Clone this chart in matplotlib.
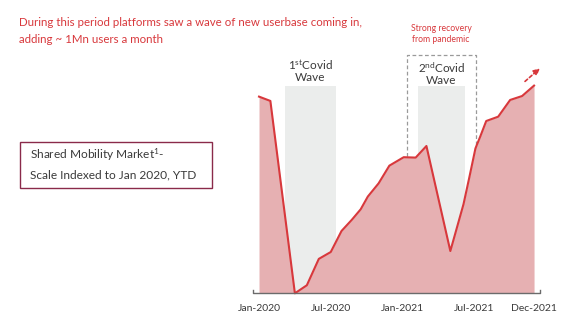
import matplotlib.pyplot as plt
from matplotlib.patches import Rectangle

# months since Jan-2020 and scale index (Jan 2020 = 100)
months = [0, 0.95, 3.0, 4.0, 5.0, 6.0, 6.9, 7.75, 8.5, 9.1, 10.0, 10.9,
          12.1, 13.1, 14.0, 16.0, 17.1, 17.6, 18.1, 18.5, 19.0, 20.0, 21.0, 22.0, 23.0]
index = [100, 97.8, 0, 4.1, 17.5, 21, 31.7, 37.3, 42.7, 49.2, 55.9, 64.9,
         69.2, 69, 74.9, 21.5, 45.3, 59.3, 73.7, 79.7, 87.6, 89.8, 98.3, 100.3, 105.6]

tick_pos = [0, 6, 12, 18, 23]
tick_labels = ['Jan-2020', 'Jul-2020', 'Jan-2021', 'Jul-2021', 'Dec-2021']

waves = [(2.17, 6.43, '1$^{st}$Covid\nWave'), (13.29, 17.22, '2$^{nd}$Covid\nWave')]
label_y = [107.0, 105.5]

RED = '#d8383c'
FILL = '#e6b0b2'
GREY = '#ebedec'
TEXT = '#3a3a3a'

plt.rcParams['font.family'] = ['Lato', 'DejaVu Sans']
plt.rcParams['mathtext.default'] = 'regular'

fig = plt.figure(figsize=(5.77, 3.25), dpi=100)
ax = fig.add_axes([240 / 577, 25 / 325, 320 / 577, 250 / 325])
ax.set_xlim(-1.59, 25.17)
ax.set_ylim(-3.4, 123.7)
ax.axis('off')

# covid wave shading
for (x0, x1, label), ly in zip(waves, label_y):
    ax.add_patch(Rectangle((x0, 0), x1 - x0, 105.6, color=GREY, zorder=1, lw=0))
    ax.text((x0 + x1) / 2, ly, label, ha='center', va='bottom', fontsize=8.5,
            color=TEXT, linespacing=1.0, zorder=5)

# dashed box around recovery
ax.plot([12.35, 12.35, 18.15, 18.15], [60, 121, 121, 60], ls='--', color='#9a9a9a',
        lw=0.9, dashes=(3, 2), zorder=2)

ax.fill_between(months, index, 0, color=FILL, lw=0, zorder=3)
ax.plot(months, index, color=RED, lw=1.5, zorder=4)

# trend arrow
ax.annotate('', xy=(23.66, 115.3), xytext=(22.07, 106.8),
            arrowprops=dict(arrowstyle='-|>', color=RED, lw=1.2, ls=(0, (2, 1.5)),
                            mutation_scale=9), zorder=5)

# baseline with end ticks
ax.plot([-0.53, -0.53, 23.46, 23.46], [1.6, 0, 0, 1.6], color='#6b6b6b', lw=1.0,
        zorder=5, clip_on=False)
for p, lab in zip(tick_pos, tick_labels):
    ax.text(p, -5.3, lab, ha='center', va='top', fontsize=7.5, color=TEXT)

fig.text(19 / 577, 1 - 31 / 325, 'During this period platforms saw a wave of new userbase coming in,\nadding ~ 1Mn users a month',
         ha='left', va='center', fontsize=8.3, color=RED, linespacing=1.6)
fig.text(441 / 577, 1 - 34 / 325, 'Strong recovery\nfrom pandemic', ha='center', va='center',
         fontsize=6.2, color=RED, linespacing=1.3)

# side label box
fig.patches.append(Rectangle((20 / 577, 1 - 188 / 325), 192 / 577, 46 / 325,
                             transform=fig.transFigure, fill=False,
                             edgecolor='#8a2a4a', lw=1.0))
fig.text(30 / 577, 1 - 155 / 325, 'Shared Mobility Market$^{1}$-', ha='left', va='center',
         fontsize=8.6, color=TEXT)
fig.text(30 / 577, 1 - 175 / 325, 'Scale Indexed to Jan 2020, YTD', ha='left', va='center',
         fontsize=8.6, color=TEXT)

fig.savefig('out.png', dpi=100)
